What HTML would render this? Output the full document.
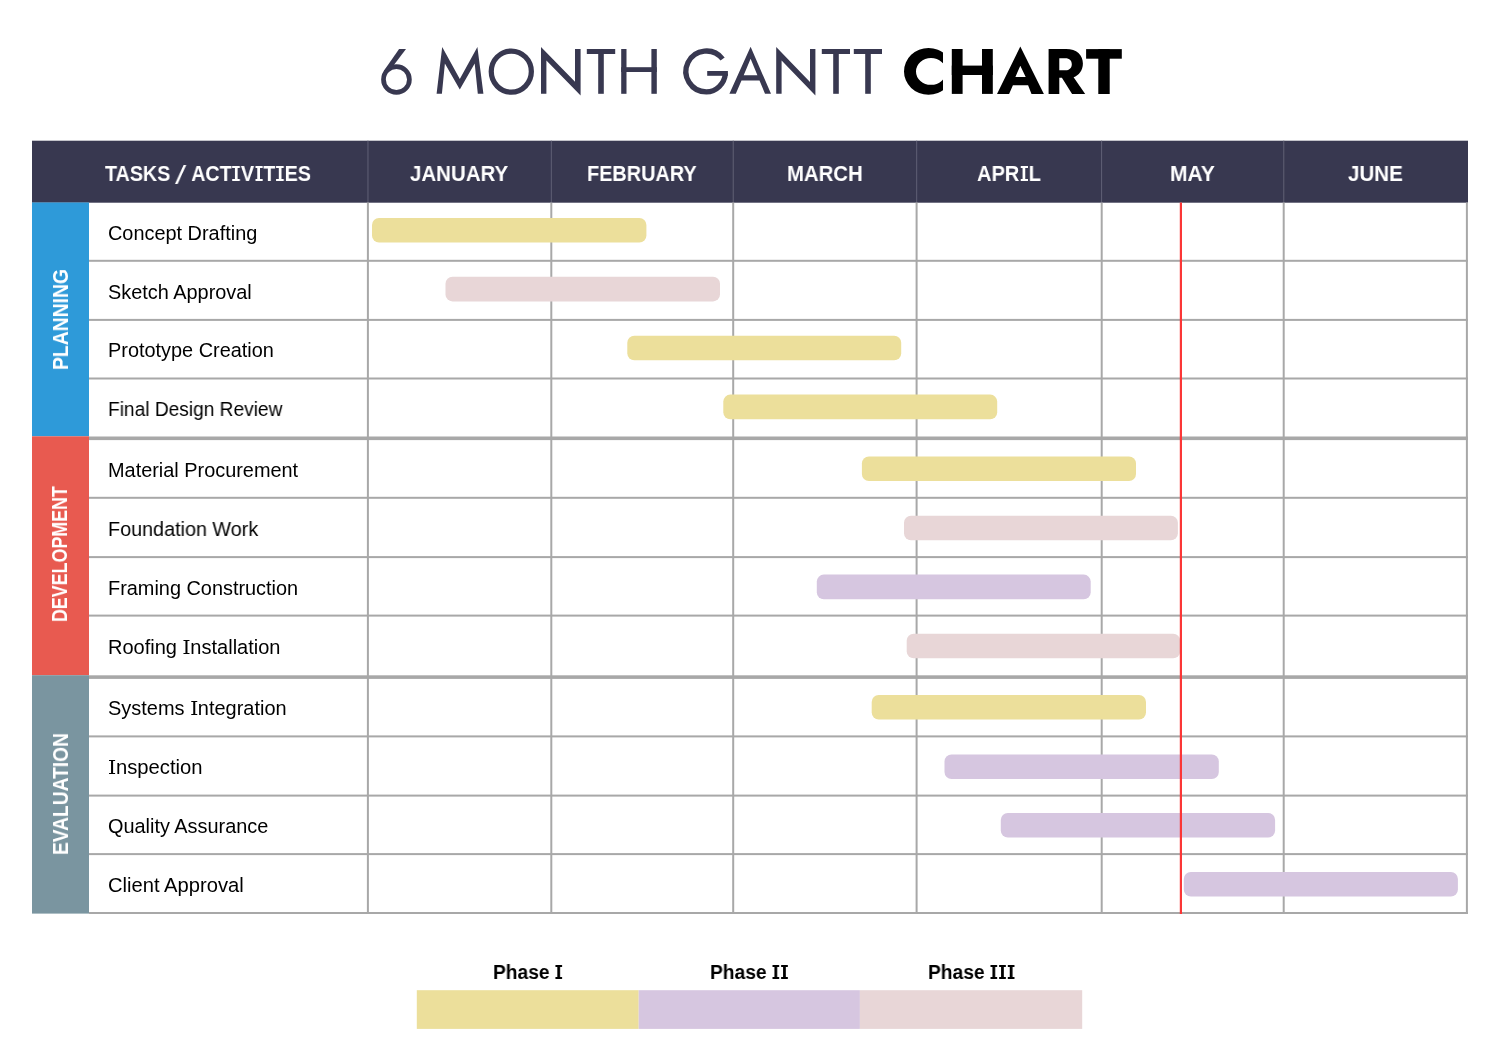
<!DOCTYPE html>
<html>
<head>
<meta charset="utf-8">
<style>
html,body{margin:0;padding:0;background:#fff;}
body{width:1500px;height:1062px;position:relative;overflow:hidden;font-family:"Liberation Sans",sans-serif;}
svg.g{position:absolute;left:0;top:0;}
.t{position:absolute;white-space:nowrap;line-height:1;transform-origin:0 0;will-change:transform;}
.title{font-size:65.4px;color:#383850;}
.hd{font-size:22px;font-weight:700;color:#fff;}
.task{font-size:19.9px;color:#000;}
.cat{font-size:21.5px;font-weight:700;color:#fff;}
.si{display:inline-block;vertical-align:baseline;background:linear-gradient(currentColor,currentColor) top/100% var(--sf) no-repeat,linear-gradient(currentColor,currentColor) bottom/100% var(--sf) no-repeat,linear-gradient(currentColor,currentColor) center/var(--st) 100% no-repeat;}
.hd .si{width:8.2px;height:15.2px;margin:0 1.1px;--sf:2.4px;--st:3.4px;}
.leg .si{width:6.9px;height:13.9px;margin:0 0.9px;--sf:2.1px;--st:2.9px;}
.task .si{width:6px;height:14.1px;margin:0 0.9px;--sf:1.4px;--st:2.1px;}
.sl{display:inline-block;width:3.2px;height:18.6px;vertical-align:-2.6px;margin:0 10px;background:currentColor;transform:skewX(-26.9deg);}
.leg{font-size:20px;font-weight:700;color:#000;}
</style>
</head>
<body>
<svg class="g" width="1500" height="1062" viewBox="0 0 1500 1062">
  <!-- header -->
  <rect x="32" y="140.7" width="1436" height="62" fill="#383850"/>
  <g fill="#5c5c72">
    <rect x="367.4" y="140.7" width="1.1" height="61.8"/>
    <rect x="550.8" y="140.7" width="1.1" height="61.8"/>
    <rect x="732.7" y="140.7" width="1.1" height="61.8"/>
    <rect x="916.1" y="140.7" width="1.1" height="61.8"/>
    <rect x="1101.0" y="140.7" width="1.1" height="61.8"/>
    <rect x="1283.2" y="140.7" width="1.1" height="61.8"/>
  </g>
  <!-- category bars -->
  <rect x="32" y="202.5" width="57" height="233.8" fill="#2e9ad9"/>
  <rect x="32" y="436.3" width="57" height="238.9" fill="#e85a50"/>
  <rect x="32" y="675.2" width="57" height="238.4" fill="#7a95a0"/>
  <!-- grid -->
  <g fill="#a8a8a8">
    <rect x="89" y="259.8" width="1378.9" height="2"/>
    <rect x="89" y="318.9" width="1378.9" height="2"/>
    <rect x="89" y="377.5" width="1378.9" height="2"/>
    <rect x="89" y="436.5" width="1378.9" height="3.6"/>
    <rect x="89" y="496.8" width="1378.9" height="2"/>
    <rect x="89" y="556.1" width="1378.9" height="2"/>
    <rect x="89" y="614.6" width="1378.9" height="2"/>
    <rect x="89" y="675.3" width="1378.9" height="3.6"/>
    <rect x="89" y="735.4" width="1378.9" height="2"/>
    <rect x="89" y="794.6" width="1378.9" height="2"/>
    <rect x="89" y="853.1" width="1378.9" height="2"/>
    <rect x="89" y="912" width="1378.9" height="2"/>
    <rect x="366.9" y="202.5" width="2" height="711.5"/>
    <rect x="550.3" y="202.5" width="2" height="711.5"/>
    <rect x="732.2" y="202.5" width="2" height="711.5"/>
    <rect x="915.6" y="202.5" width="2" height="711.5"/>
    <rect x="1100.7" y="202.5" width="2" height="711.5"/>
    <rect x="1282.7" y="202.5" width="2" height="711.5"/>
    <rect x="1465.9" y="202.5" width="2" height="711.5"/>
  </g>
  <!-- bars -->
  <g>
    <rect x="372" y="218.0" width="274.4" height="24.6" rx="7" fill="#ecdf9b"/>
    <rect x="445.5" y="276.8" width="274.5" height="24.6" rx="7" fill="#e8d6d7"/>
    <rect x="627.3" y="335.7" width="273.9" height="24.6" rx="7" fill="#ecdf9b"/>
    <rect x="723.3" y="394.6" width="273.9" height="24.6" rx="7" fill="#ecdf9b"/>
    <rect x="861.9" y="456.5" width="274.1" height="24.6" rx="7" fill="#ecdf9b"/>
    <rect x="904" y="515.7" width="273.9" height="24.6" rx="7" fill="#e8d6d7"/>
    <rect x="816.8" y="574.6" width="273.9" height="24.6" rx="7" fill="#d6c6e0"/>
    <rect x="906.7" y="633.7" width="273.5" height="24.6" rx="7" fill="#e8d6d7"/>
    <rect x="871.7" y="695.0" width="274.3" height="24.6" rx="7" fill="#ecdf9b"/>
    <rect x="944.5" y="754.5" width="274.3" height="24.6" rx="7" fill="#d6c6e0"/>
    <rect x="1000.8" y="812.9" width="274.3" height="24.6" rx="7" fill="#d6c6e0"/>
    <rect x="1183.8" y="871.9" width="274.1" height="24.6" rx="7" fill="#d6c6e0"/>
  </g>
  <!-- today line -->
  <rect x="1179.8" y="202.5" width="2.2" height="711.5" fill="#fb3636"/>
  <!-- legend -->
  <rect x="416.8" y="990.2" width="221.9" height="38.7" fill="#ecdf9b"/>
  <rect x="638.7" y="990.2" width="221.2" height="38.7" fill="#d6c6e0"/>
  <rect x="859.9" y="990.2" width="222.3" height="38.7" fill="#e8d6d7"/>
</svg>

<!-- title -->
<svg class="g" width="1500" height="130" viewBox="0 0 1500 130" role="img" aria-label="6 MONTH GANTT CHART">
  <defs><clipPath id="cclip"><rect x="890" y="30" width="53" height="80"/></clipPath></defs>
  <g fill="#383850">
    <!-- 6 -->
    <ellipse cx="396.45" cy="79.5" rx="12.95" ry="12.85" fill="none" stroke="#383850" stroke-width="4.7"/>
    <path d="M399.1 49.1 L406 49.1 L393.5 65.6 L390 70 L385.5 74 L383.9 70.7 Z"/>
    <!-- M -->
    <path d="M436.6 93.8 L442.2 46.9 L459.8 79.1 L477.4 46.9 L483.4 93.8 L477.8 93.8 L474.7 63.6 L459.8 89.4 L444.9 63.6 L441.9 93.8 Z"/>
    <!-- O -->
    <ellipse cx="511.3" cy="71.6" rx="20.05" ry="20.6" fill="none" stroke="#383850" stroke-width="5.25"/>
    <!-- N -->
    <path d="M541 93.8 L541 46.9 L575 81.8 L575 49 L580.6 49 L580.6 95.6 L546.4 60.6 L546.4 93.8 Z"/>
    <!-- T -->
    <rect x="586.8" y="49" width="28.4" height="5"/>
    <rect x="598.2" y="49" width="5.6" height="44.8"/>
    <!-- H -->
    <rect x="621.2" y="49" width="5.3" height="44.8"/>
    <rect x="651.4" y="49" width="5.4" height="44.8"/>
    <rect x="621.2" y="67.2" width="35.6" height="4.8"/>
    <!-- G -->
    <path d="M722.6 59.0 A20.45 20.45 0 1 0 706.4 91.9 A19.1 20.45 0 0 0 725.4 73.5" fill="none" stroke="#383850" stroke-width="5.3"/>
    <rect x="707.2" y="71" width="20.7" height="4.8"/>
    <!-- A -->
    <path fill-rule="evenodd" d="M729.4 93.8 L750.6 46.8 L771 93.8 L765 93.8 L759.5 80.4 L741.5 80.4 L735.8 93.8 Z M743.7 75.2 L750.6 58.8 L757.4 75.2 Z"/>
    <!-- N -->
    <path d="M776.2 93.8 L776.2 47 L810 82 L810 49 L815.4 49 L815.4 95.6 L781.6 60.4 L781.6 93.8 Z"/>
    <!-- T T -->
    <rect x="821.8" y="49" width="28.2" height="5"/>
    <rect x="833.2" y="49" width="5.6" height="44.8"/>
    <rect x="853.8" y="49" width="28.2" height="5"/>
    <rect x="865.2" y="49" width="5.6" height="44.8"/>
  </g>
  <g fill="#000">
    <!-- C -->
    <path clip-path="url(#cclip)" fill-rule="evenodd" d="M904 71.4 A24.5 23.4 0 1 0 953 71.4 A24.5 23.4 0 1 0 904 71.4 Z M916 71.4 A15 13.4 0 1 0 946 71.4 A15 13.4 0 1 0 916 71.4 Z"/>
    <!-- H -->
    <rect x="951.8" y="49" width="10.8" height="44.9"/>
    <rect x="982" y="49" width="10.8" height="44.9"/>
    <rect x="951.8" y="65.6" width="41" height="9.4"/>
    <!-- A -->
    <path fill-rule="evenodd" d="M997 94 L1020.3 46.5 L1043.9 94 L1031.5 94 L1028.1 85.3 L1012.9 85.3 L1009.1 94 Z M1015.4 76.9 L1020.3 65.7 L1025.7 76.9 Z"/>
    <!-- R -->
    <path fill-rule="evenodd" d="M1048.6 94 L1048.6 49.1 L1066 49.1 C1076.8 49.1 1082.9 55.2 1082.9 63.6 C1082.9 70.4 1078.8 75.6 1073.6 77.3 L1085.2 94 L1072.1 94 L1061.9 77.8 L1059.3 77.8 L1059.3 94 Z M1059.3 58.2 L1065.3 58.2 C1069.6 58.2 1071.8 60.7 1071.8 64.2 C1071.8 67.7 1069.6 70.3 1065.3 70.3 L1059.3 70.3 Z"/>
    <!-- T -->
    <rect x="1086.1" y="49.1" width="35.7" height="9.6"/>
    <rect x="1098.3" y="49.1" width="11.4" height="44.9"/>
  </g>
</svg>

<!-- header labels -->
<div class="t hd" id="h0" style="left:105.2px;top:163.3px;transform:scaleX(0.8957);">TASKS<span class="sl"></span>ACT<span class="si"></span>V<span class="si"></span>T<span class="si"></span>ES</div>
<div class="t hd" id="h1" style="left:409.5px;top:163.3px;transform:scaleX(0.931);">JANUARY</div>
<div class="t hd" id="h2" style="left:586.8px;top:163.3px;transform:scaleX(0.903);">FEBRUARY</div>
<div class="t hd" id="h3" style="left:787.4px;top:163.3px;transform:scaleX(0.925);">MARCH</div>
<div class="t hd" id="h4" style="left:976.9px;top:163.3px;transform:scaleX(0.910);">APR<span class="si"></span>L</div>
<div class="t hd" id="h5" style="left:1170.0px;top:163.3px;transform:scaleX(0.956);">MAY</div>
<div class="t hd" id="h6" style="left:1348.1px;top:163.3px;transform:scaleX(0.935);">JUNE</div>

<!-- tasks -->
<div class="t task" id="k1" style="left:108px;top:224.2px;">Concept Drafting</div>
<div class="t task" id="k2" style="left:108px;top:282.5px;">Sketch Approval</div>
<div class="t task" id="k3" style="left:108px;top:341.2px;">Prototype Creation</div>
<div class="t task" id="k4" style="left:108px;top:400px;transform:scaleX(0.962);">Final Design Review</div>
<div class="t task" id="k5" style="left:108px;top:460.9px;">Material Procurement</div>
<div class="t task" id="k6" style="left:108px;top:520.2px;transform:scaleX(0.994);">Foundation Work</div>
<div class="t task" id="k7" style="left:108px;top:579px;">Framing Construction</div>
<div class="t task" id="k8" style="left:108px;top:637.9px;transform:scaleX(1.006);">Roofing <span class="si"></span>nstallation</div>
<div class="t task" id="k9" style="left:108px;top:699.3px;transform:scaleX(1.003);">Systems <span class="si"></span>ntegration</div>
<div class="t task" id="k10" style="left:108px;top:758.2px;transform:scaleX(1.018);"><span class="si"></span>nspection</div>
<div class="t task" id="k11" style="left:108px;top:817px;">Quality Assurance</div>
<div class="t task" id="k12" style="left:108px;top:875.9px;transform:scaleX(1.014);">Client Approval</div>

<!-- category labels (rotated) -->
<div class="t cat" id="c1" style="left:50.8px;top:370.4px;transform:rotate(-90deg) scaleX(0.90);">PLANNING</div>
<div class="t cat" id="c2" style="left:49.8px;top:621.5px;transform:rotate(-90deg) scaleX(0.83);">DEVELOPMENT</div>
<div class="t cat" id="c3" style="left:50.8px;top:854.9px;transform:rotate(-90deg) scaleX(0.893);">EVALUATION</div>

<!-- legend labels -->
<div class="t leg" id="l1" style="left:492.5px;top:962px;transform:scaleX(0.96);">Phase <span class="si"></span></div>
<div class="t leg" id="l2" style="left:710.3px;top:962px;transform:scaleX(0.961);">Phase <span class="si"></span><span class="si"></span></div>
<div class="t leg" id="l3" style="left:927.5px;top:962px;transform:scaleX(0.961);">Phase <span class="si"></span><span class="si"></span><span class="si"></span></div>
</body>
</html>
